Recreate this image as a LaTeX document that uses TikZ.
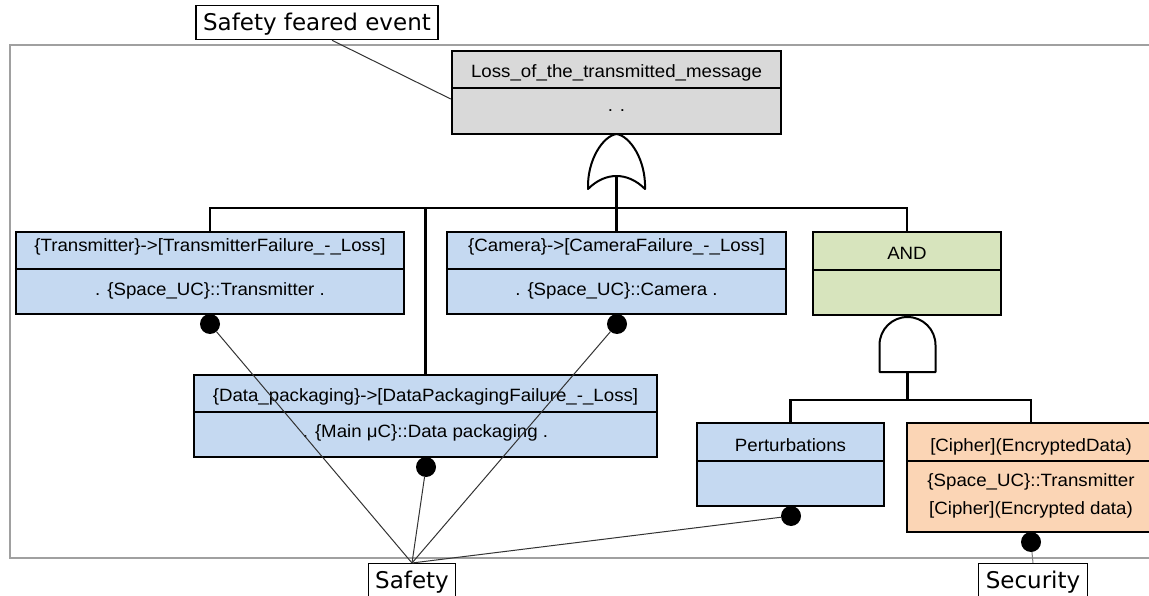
\documentclass[tikz,border=0pt]{standalone}
\usepackage{fontspec}
\setmainfont{Liberation Sans}[FakeStretch=1.05]
\newfontfamily\lblfont{DejaVu Sans}
\definecolor{grayf}{HTML}{D9D9D9}
\definecolor{bluef}{HTML}{C5D9F1}
\definecolor{greenf}{HTML}{D7E4BD}
\definecolor{orangef}{HTML}{FBD5B5}
\definecolor{framec}{HTML}{A0A0A0}
\definecolor{linec}{HTML}{333333}
\tikzset{
  box/.style={draw, line width=2.5pt, rectangle, inner sep=0pt},
  txt/.style={inner sep=0pt, anchor=base, font=\fontsize{17.8}{20}\selectfont},
  lbl/.style={draw, line width=1.3pt, fill=white, inner xsep=7pt, inner ysep=6pt, text height=19pt, text depth=3pt, font=\lblfont\fontsize{23}{26}\selectfont},
  dotn/.style={circle, fill=black, minimum size=20pt, inner sep=0pt},
  bus/.style={line width=2.7pt},
  gate/.style={line width=2pt, fill=white, line join=round},
  thin/.style={line width=1pt, linec},
  divider/.style={line width=2.5pt}
}
\begin{document}
\begin{tikzpicture}[x=1pt,y=-1pt]
\useasboundingbox (0,0) rectangle (1149,596);
% frame
\draw[framec, line width=1.5pt] (10,45) rectangle (1175,558);

% boxes
\node[box, fill=grayf, minimum width=329pt, minimum height=83pt] (top) at (616.5,92.5) {};
\node[box, fill=bluef, minimum width=388pt, minimum height=82pt] (tr) at (210,273) {};
\node[box, fill=bluef, minimum width=339pt, minimum height=82pt] (cam) at (616.5,273) {};
\node[box, fill=greenf, minimum width=188pt, minimum height=83pt] (andb) at (907,273.5) {};
\node[box, fill=bluef, minimum width=463pt, minimum height=82pt] (dp) at (425.5,416) {};
\node[box, fill=bluef, minimum width=187pt, minimum height=83pt] (pert) at (790.5,464.5) {};
\node[box, fill=orangef, minimum width=248pt, minimum height=109pt] (ciph) at (1031,477.5) {};

% dividers
\draw[divider] (top.west|-0,88) -- (top.east|-0,88);
\draw[divider] (tr.west|-0,269) -- (tr.east|-0,269);
\draw[divider] (cam.west|-0,269) -- (cam.east|-0,269);
\draw[divider] (andb.west|-0,270) -- (andb.east|-0,270);
\draw[divider] (dp.west|-0,412) -- (dp.east|-0,412);
\draw[divider] (pert.west|-0,461) -- (pert.east|-0,461);
\draw[divider] (ciph.west|-0,461) -- (ciph.east|-0,461);

% texts
\node[txt] (t1a) at (616.5,78) {Loss\_of\_the\_transmitted\_message};
\node[txt] (t1b) at (616.5,112) {. .};
\node[txt] (t2a) at (210,252) {\{Transmitter\}->[TransmitterFailure\_-\_Loss]};
\node[txt] (t2b) at (210,295) {. \{Space\_UC\}::Transmitter .};
\node[txt] (t3a) at (616.5,252) {\{Camera\}->[CameraFailure\_-\_Loss]};
\node[txt] (t3b) at (616.5,295) {. \{Space\_UC\}::Camera .};
\node[txt] (t4a) at (907,260) {AND};
\node[txt] (t5a) at (425.5,401) {\{Data\_packaging\}->[DataPackagingFailure\_-\_Loss]};
\node[txt] (t5b) at (425.5,437) {. \{Main μC\}::Data packaging .};
\node[txt] (t6a) at (790.5,451) {Perturbations};
\node[txt] (t7a) at (1031,451) {[Cipher](EncryptedData)};
\node[txt] (t7b) at (1031,486) {\{Space\_UC\}::Transmitter};
\node[txt] (t7c) at (1031,514) {[Cipher](Encrypted data)};

% OR gate
\coordinate (orout) at (616.5,176);
\draw[gate] (588,189) .. controls (587,160) and (603,136) .. (616.5,134)
  .. controls (630,136) and (646,160) .. (645,189)
  .. controls (636,180) and (626,176) .. (616.5,176)
  .. controls (607,176) and (597,180) .. (588,189) -- cycle;
\coordinate (bus) at (0,208);
\draw[bus] (orout) -- (orout|-bus);
\draw[bus] (tr.north) -- (tr.north|-bus) -- (andb.north|-bus) -- (andb.north);
\draw[bus] (dp.north) -- (dp.north|-bus);
\draw[bus] (cam.north) -- (cam.north|-bus);

% AND gate
\coordinate (andout) at (907.5,372);
\draw[gate] (879.5,372) -- (879.5,345) .. controls (879.5,329.5) and (892,317) .. (907.5,317)
  .. controls (923,317) and (935.5,329.5) .. (935.5,345) -- (935.5,372) -- cycle;
\coordinate (bus2) at (0,400);
\draw[bus] (andout) -- (andout|-bus2);
\draw[bus] (pert.north) -- (pert.north|-bus2) -- (ciph.north|-bus2) -- (ciph.north);

% labels
\node[lbl, anchor=north] (sfe) at (317,5) {Safety feared event};
\node[lbl, anchor=north] (safety) at (412,563) {Safety};
\node[lbl, anchor=north] (security) at (1033,563) {Security};

% dots
\node[dotn] (d1) at (210,324) {};
\node[dotn] (d2) at (617,324) {};
\node[dotn] (d3) at (426,467) {};
\node[dotn] (d4) at (791,516) {};
\node[dotn] (d5) at (1031,542) {};

% connectors
\draw[thin] (sfe.south -| 332,0) -- (top.west |- 0,99);
\draw[thin] (d1) -- (safety.north);
\draw[thin] (d2) -- (safety.north);
\draw[thin] (d3) -- (safety.north);
\draw[thin] (d4) -- (safety.north);
\draw[thin, gray] (d5) -- (security.north);
\end{tikzpicture}
\end{document}
